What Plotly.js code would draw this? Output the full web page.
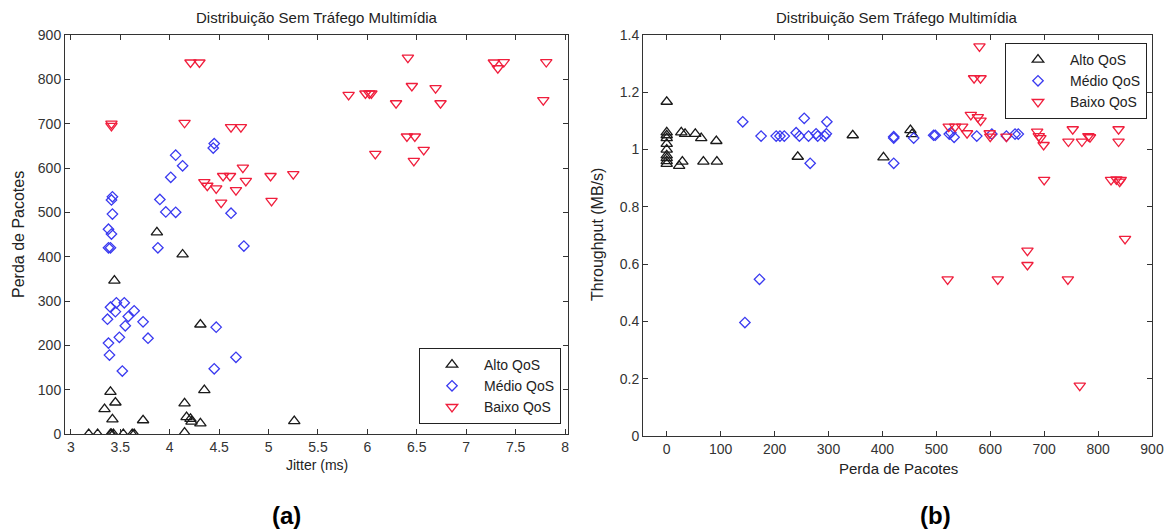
<!DOCTYPE html>
<html>
<head>
<meta charset="utf-8">
<script src="https://cdn.plot.ly/plotly-3.0.1.min.js"></script>
<style>html,body{margin:0;padding:0;background:#fff;}#chart{width:1168px;height:530px;}</style>
</head>
<body>
<div id="chart"></div>
<script>
// ---- Panel (a): Jitter (ms) vs Perda de Pacotes ----
const altoJitter  = [3.18,3.27,3.40,3.41,3.43,3.53,3.62,3.64,3.40,3.45,3.34,3.42,3.73,4.15,4.17,4.21,4.22,4.31,4.35,4.15,3.87,4.13,3.44,4.31,5.26];
const altoPerda   = [0,0,0,0,0,0,0,0,95,71,56,33,31,69,38,34,28,24,99,3,455,405,346,247,29];
const medioJitter = [4.45,4.44,4.06,4.13,4.01,3.42,3.41,3.42,3.90,3.96,4.06,4.62,3.38,3.41,3.38,3.40,3.88,4.75,3.40,3.46,3.54,3.45,3.64,3.58,3.37,3.55,3.73,3.78,3.49,3.38,3.39,3.52,4.47,4.67,4.45];
const medioPerda  = [655,645,629,605,579,535,528,496,529,501,500,498,462,451,420,420,420,424,286,296,296,276,278,265,259,244,253,216,218,205,178,142,241,173,147];
const baixoJitter = [4.21,4.30,3.41,3.41,4.15,4.62,4.72,4.74,4.54,4.61,5.02,5.25,4.35,4.38,4.47,4.77,4.67,4.52,5.03,6.41,7.28,7.38,7.32,7.81,5.81,5.98,6.02,6.04,6.29,6.45,6.69,6.74,7.78,6.40,6.48,6.57,6.08,6.47];
const baixoPerda  = [838,838,700,695,702,692,692,601,582,582,582,586,568,560,554,571,550,522,526,849,838,839,825,839,765,768,768,768,746,785,780,746,753,671,671,641,632,616];

// ---- Panel (b): Perda de Pacotes vs Throughput (MB/s) ----
const altoPerdaB  = [0,0,0,0,0,0,0,0,0,0,27,34,53,64,92,23,29,68,93,243,345,402,452,455];
const altoThr     = [1.167,1.06,1.05,1.04,1.02,1.0,0.98,0.97,0.96,0.95,1.06,1.055,1.055,1.04,1.03,0.943,0.958,0.958,0.958,0.975,1.05,0.973,1.068,1.054];
const medioPerdaB = [141,175,203,210,218,240,246,255,263,277,280,293,296,297,266,421,421,421,172,145,458,495,498,524,527,533,575,603,630,646,652];
const medioThr    = [1.097,1.047,1.047,1.047,1.047,1.059,1.047,1.109,1.047,1.055,1.047,1.047,1.055,1.097,0.952,1.04,1.045,0.952,0.547,0.396,1.04,1.05,1.05,1.054,1.059,1.043,1.047,1.054,1.047,1.054,1.054];
const baixoPerdaB = [580,570,582,564,577,582,523,535,548,557,599,600,630,687,690,693,699,753,745,770,782,785,838,838,700,824,834,840,842,850,669,669,521,614,744,766];
const baixoThr    = [1.36,1.249,1.249,1.121,1.113,1.101,1.08,1.08,1.08,1.057,1.057,1.045,1.045,1.063,1.047,1.04,1.016,1.071,1.028,1.028,1.047,1.043,1.071,1.028,0.894,0.894,0.896,0.888,0.894,0.688,0.647,0.597,0.547,0.547,0.547,0.176];

const seriesNames = ['Alto QoS','Médio QoS','Baixo QoS'];
const chartTitle = 'Distribuição Sem Tráfego Multimídia';
const xTicksA = [3,3.5,4,4.5,5,5.5,6,6.5,7,7.5,8];
const yTicksA = [0,100,200,300,400,500,600,700,800,900];
const xTicksB = [0,100,200,300,400,500,600,700,800,900];
const yTicksB = [0,0.2,0.4,0.6,0.8,1,1.2,1.4];

const cBlack = '#1a1a1a', cBlue = '#3a3af0', cRed = '#f01e3c';
const FONT = 'Liberation Sans, Arial, sans-serif';

function mk(x, y, name, sym, color, size, xa, ya, leg) {
  return {x:x, y:y, name:name, type:'scatter', mode:'markers', xaxis:xa, yaxis:ya, legend:leg,
    marker:{symbol:sym, size:size, color:color, line:{color:color, width:1.3}}};
}

const data = [
  mk(altoJitter, altoPerda, seriesNames[0], 'triangle-up-open', cBlack, 10, 'x', 'y', 'legend'),
  mk(medioJitter, medioPerda, seriesNames[1], 'diamond-open', cBlue, 8, 'x', 'y', 'legend'),
  mk(baixoJitter, baixoPerda, seriesNames[2], 'triangle-down-open', cRed, 10, 'x', 'y', 'legend'),
  mk(altoPerdaB, altoThr, seriesNames[0], 'triangle-up-open', cBlack, 10, 'x2', 'y2', 'legend2'),
  mk(medioPerdaB, medioThr, seriesNames[1], 'diamond-open', cBlue, 8, 'x2', 'y2', 'legend2'),
  mk(baixoPerdaB, baixoThr, seriesNames[2], 'triangle-down-open', cRed, 10, 'x2', 'y2', 'legend2')
];

const axBase = {showline:true, linecolor:'#333', linewidth:1, mirror:'ticks', ticks:'inside', ticklen:5,
  tickcolor:'#333', showgrid:false, zeroline:false, tickfont:{family:FONT, size:14, color:'#333'}, fixedrange:true};

const legBase = {bgcolor:'#fff', bordercolor:'#222', borderwidth:1, font:{family:FONT, size:14, color:'#222'},
  tracegroupgap:0, itemwidth:54};

function ann(text, px, py, size, angle, color) {
  return {text:text, x:px/1168, y:1-py/530, xref:'paper', yref:'paper', xanchor:'center', yanchor:'middle',
    showarrow:false, textangle:angle||0, font:{family:FONT, size:size, color:color||'#222'}};
}

const layout = {
  width:1168, height:530, margin:{l:0, r:0, t:0, b:0},
  paper_bgcolor:'#fff', plot_bgcolor:'#fff', showlegend:true,
  font:{family:FONT, color:'#333'},
  xaxis: Object.assign({}, axBase, {domain:[65/1168, 568/1168], range:[2.94, 8.03], tickvals:xTicksA, anchor:'y'}),
  yaxis: Object.assign({}, axBase, {domain:[1-434/530, 1-35/530], range:[0, 900], tickvals:yTicksA, anchor:'x'}),
  xaxis2: Object.assign({}, axBase, {domain:[643/1168, 1152/1168], range:[-44, 900], tickvals:xTicksB, anchor:'y2'}),
  yaxis2: Object.assign({}, axBase, {domain:[1-436/530, 1-35/530], range:[0, 1.4], tickvals:yTicksB, anchor:'x2'}),
  legend: Object.assign({}, legBase, {x:561/1168, y:1-424/530, xanchor:'right', yanchor:'bottom'}),
  legend2: Object.assign({}, legBase, {x:1147/1168, y:1-43/530, xanchor:'right', yanchor:'top'}),
  annotations: [
    ann(chartTitle, 317, 18, 15),
    ann(chartTitle, 897, 18, 15),
    ann('Jitter (ms)', 317, 465, 14),
    ann('Perda de Pacotes', 898, 468, 15),
    ann('Perda de Pacotes', 18, 235, 16, -90),
    ann('Throughput (MB/s)', 597, 235, 16, -90),
    ann('<b>(a)</b>', 286, 515, 24, 0, '#000'),
    ann('<b>(b)</b>', 935, 515, 24, 0, '#000')
  ]
};

Plotly.newPlot('chart', data, layout, {displayModeBar:false, staticPlot:true});
</script>
</body>
</html>
